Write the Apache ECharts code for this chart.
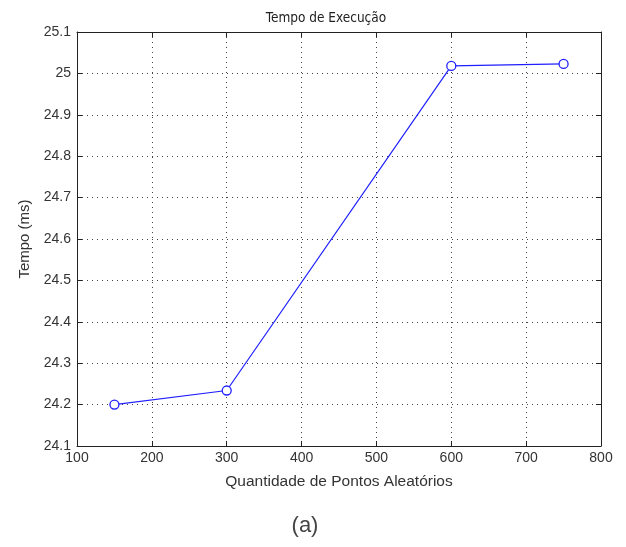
<!DOCTYPE html>
<html>
<head>
<meta charset="utf-8">
<script src="https://cdn.jsdelivr.net/npm/echarts@6/dist/echarts.min.js"></script>
<style>
  html, body { margin: 0; padding: 0; background: #fff; }
  #chart { width: 626px; height: 547px; }
</style>
</head>
<body>
<div id="chart"></div>
<script>
// dados
const pontos = [150, 300, 600, 750];
const tempos = [24.200, 24.234, 25.018, 25.023];
const xTicks = [100, 200, 300, 400, 500, 600, 700, 800];
const yTicks = [24.1, 24.2, 24.3, 24.4, 24.5, 24.6, 24.7, 24.8, 24.9, 25, 25.1];

const chart = echarts.init(document.getElementById('chart'));
const font = 'Liberation Sans, Arial, sans-serif';
const txt = '#333';

const boxAxis = {
  axisLine: { show: true, lineStyle: { color: '#222', width: 1 } },
  axisTick: { show: true, inside: true, length: 5, lineStyle: { color: '#222' } },
  axisLabel: { show: false },
  splitLine: { show: false }
};

chart.setOption({
  animation: false,
  title: [{
    text: 'Tempo de Execução',
    left: 321, top: 6, textAlign: 'center',
    textStyle: { fontFamily: 'DejaVu Sans Condensed, DejaVu Sans, sans-serif', fontSize: 13.5, fontWeight: 'normal', color: '#222' }
  }, {
    text: '(a)',
    left: 300, top: 510, textAlign: 'center',
    textStyle: { fontFamily: font, fontSize: 22, fontWeight: 'normal', color: '#444' }
  }],
  grid: { left: 77, right: 25, top: 32, bottom: 101, show: false },
  xAxis: [{
    type: 'value', min: 100, max: 800, interval: 100,
    name: 'Quantidade de Pontos Aleatórios', nameLocation: 'middle', nameGap: 28,
    nameTextStyle: { fontFamily: font, fontSize: 15.5, color: txt },
    axisLine: { show: true, onZero: false, lineStyle: { color: '#222' } },
    axisTick: { show: true, inside: true, length: 5, lineStyle: { color: '#222' } },
    axisLabel: { fontFamily: font, fontSize: 14, color: txt, margin: 5,
      formatter: v => xTicks.includes(v) ? String(v) : '' },
    splitLine: { show: true, lineStyle: { color: '#444', type: [1, 4], width: 1 } }
  }, Object.assign({ type: 'value', position: 'top', min: 100, max: 800, interval: 100 }, boxAxis)],
  yAxis: [{
    type: 'value', min: 24.1, max: 25.1, interval: 0.1,
    name: 'Tempo (ms)', nameLocation: 'middle', nameGap: 45,
    nameTextStyle: { fontFamily: font, fontSize: 15, color: txt },
    axisLine: { show: true, onZero: false, lineStyle: { color: '#222' } },
    axisTick: { show: true, inside: true, length: 5, lineStyle: { color: '#222' } },
    axisLabel: { fontFamily: font, fontSize: 14, color: txt, margin: 6,
      formatter: v => {
        const t = yTicks.find(y => Math.abs(y - v) < 1e-6);
        return t === undefined ? '' : String(t);
      } },
    splitLine: { show: true, lineStyle: { color: '#444', type: [1, 4], width: 1 } }
  }, Object.assign({ type: 'value', position: 'right', min: 24.1, max: 25.1, interval: 0.1 }, boxAxis)],
  series: [{
    type: 'line',
    data: pontos.map((x, i) => [x, tempos[i]]),
    symbol: 'circle', symbolSize: 9,
    lineStyle: { color: '#1f1fff', width: 1.2 },
    itemStyle: { color: '#fff', borderColor: '#1f1fff', borderWidth: 1.3 }
  }]
});
</script>
</body>
</html>
